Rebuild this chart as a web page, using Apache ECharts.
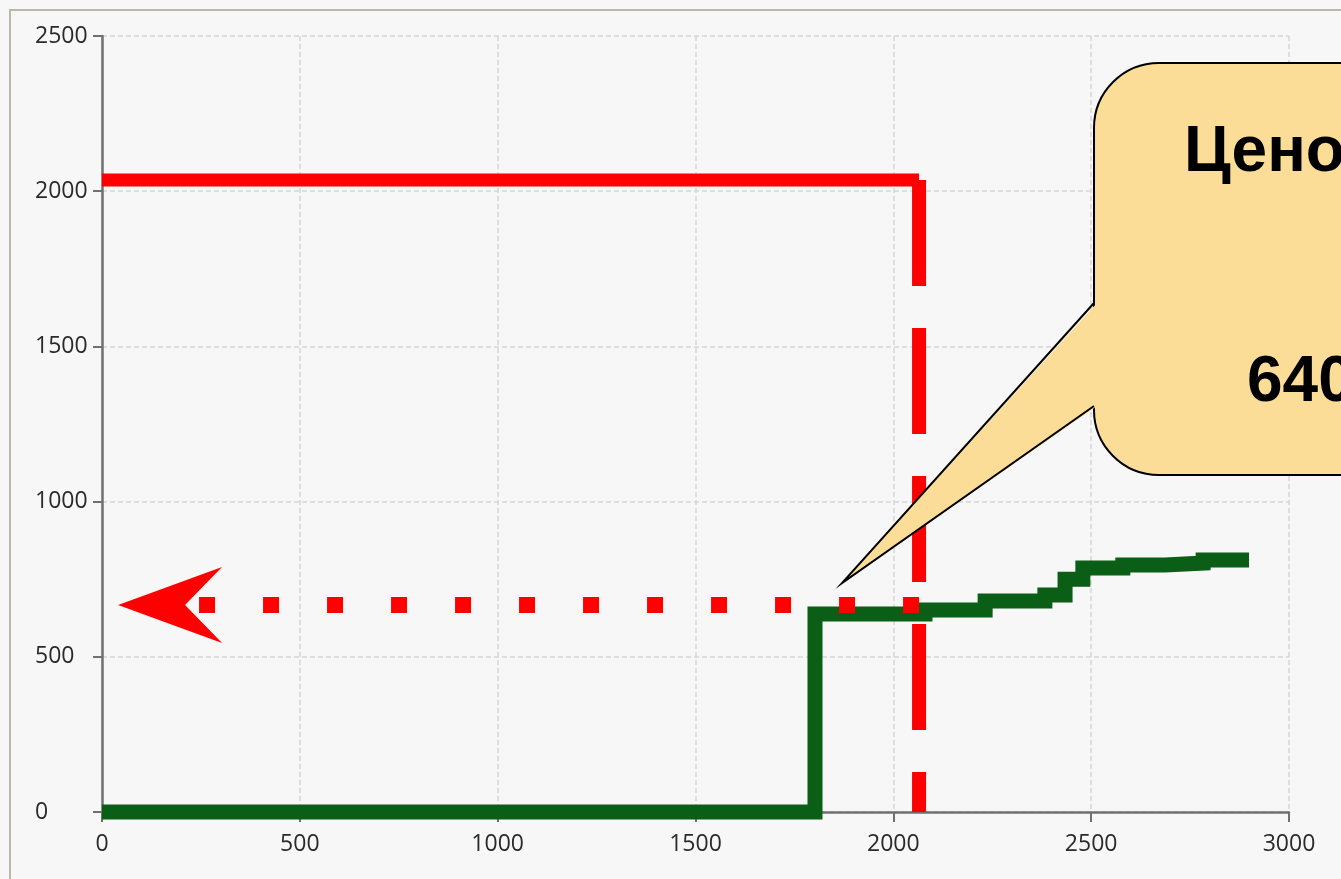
<!DOCTYPE html>
<html>
<head>
<meta charset="utf-8">
<script src="https://cdn.jsdelivr.net/npm/echarts@6/dist/echarts.min.js"></script>
<style>
html,body{margin:0;padding:0;background:#f7f7f7;}
#chart{width:1341px;height:879px;}
</style>
</head>
<body>
<div id="chart"></div>
<script>
// ---- data ----
const xTicks = [0, 500, 1000, 1500, 2000, 2500, 3000];
const yTicks = [0, 500, 1000, 1500, 2000, 2500];
// demand (green) step curve: [quantity, price]
const greenX = [0, 1802, 2080, 2232, 2383, 2434, 2479, 2580, 2687, 2783, 2899];
const greenY = [0, 638, 651, 680, 699, 750, 786, 796, 802, 812, 812];
// red supply level and cut-off
const redLevel = 2036;
const redCutX = 2065;
// dotted price level arrow
const priceLevel = 667;
const arrowEndX = 172;
const calloutLines = ['Ценовой', '640'];

const greenData = greenX.map((x, i) => [x, greenY[i]]);

const chart = echarts.init(document.getElementById('chart'), null, {renderer: 'canvas'});
const axisColor = '#707070';
const labelStyle = {color: '#2a2a2a', fontSize: 23, fontFamily: '"Open Sans", sans-serif', fontWeight: 400,
  formatter: v => String(v)};

chart.setOption({
  animation: false,
  backgroundColor: '#f7f7f7',
  grid: {left: 102, right: 52, top: 36, bottom: 67, containLabel: false},
  xAxis: {
    type: 'value', min: xTicks[0], max: xTicks[xTicks.length - 1], interval: 500,
    axisLine: {show: true, lineStyle: {color: axisColor, width: 2.5}},
    axisTick: {show: true, length: 10, lineStyle: {color: axisColor, width: 2}},
    axisLabel: Object.assign({margin: 21}, labelStyle),
    splitLine: {show: true, lineStyle: {color: '#d6d6d6', width: 1.5, type: [5, 3]}}
  },
  yAxis: {
    type: 'value', min: yTicks[0], max: yTicks[yTicks.length - 1], interval: 500,
    axisLine: {show: true, lineStyle: {color: axisColor, width: 2.5}},
    axisTick: {show: true, length: 9, lineStyle: {color: axisColor, width: 2}},
    axisLabel: Object.assign({margin: 67, align: 'left'}, labelStyle),
    splitLine: {show: true, lineStyle: {color: '#d6d6d6', width: 1.5, type: [5, 3]}}
  },
  series: [
    {
      type: 'line', z: 2, symbol: 'none', clip: false,
      data: [[0, redLevel], [redCutX, redLevel]],
      lineStyle: {color: '#ff0000', width: 13, cap: 'butt'}
    },
    {
      type: 'line', z: 2, symbol: 'none', clip: false,
      data: [[redCutX, redLevel], [redCutX, 0]],
      lineStyle: {color: '#ff0000', width: 14, cap: 'butt', type: [106, 42]}
    },
    {
      type: 'line', z: 3, symbol: 'none', step: 'end', clip: false,
      data: greenData,
      lineStyle: {color: '#0a5e16', width: 15, cap: 'butt', join: 'miter'}
    },
    {
      type: 'line', z: 5, symbol: 'none', data: [],
      markLine: {
        silent: true,
        animation: false,
        label: {show: false},
        lineStyle: {color: '#ff0000', width: 16, type: [16, 48], cap: 'butt', opacity: 1},
        data: [[
          {coord: [redCutX, priceLevel], symbol: 'none'},
          {coord: [arrowEndX, priceLevel], symbol: 'path://M38,0 L76,104 L38,67 L0,104 Z', symbolSize: [76, 104]}
        ]]
      }
    }
  ],
  graphic: [
    {
      type: 'rect', z: 0, silent: true,
      shape: {x: 10, y: 10, width: 1400, height: 1000},
      style: {fill: 'none', stroke: '#bdb7a7', lineWidth: 2}
    },
    {
      type: 'rect', z: 100, silent: true,
      shape: {x: 1094, y: 63, width: 400, height: 412, r: 65},
      style: {fill: '#fbdd97', stroke: '#000', lineWidth: 2}
    },
    {
      type: 'polygon', z: 101, silent: true,
      shape: {points: [[1097, 303], [842, 583], [1097, 406]]},
      style: {fill: '#fbdd97', stroke: 'none'}
    },
    {
      type: 'polyline', z: 102, silent: true,
      shape: {points: [[1094, 303], [842, 583], [1094, 406]]},
      style: {fill: 'none', stroke: '#000', lineWidth: 2}
    },
    {
      type: 'text', z: 103, silent: true, x: 1184, y: 153,
      style: {text: calloutLines[0], font: 'bold 64px "Liberation Sans", Arial, sans-serif', fill: '#000', verticalAlign: 'middle', align: 'left'}
    },
    {
      type: 'text', z: 103, silent: true, x: 1247, y: 383,
      style: {text: calloutLines[1], font: 'bold 64px "Liberation Sans", Arial, sans-serif', fill: '#000', verticalAlign: 'middle', align: 'left'}
    }
  ]
});
</script>
</body>
</html>
